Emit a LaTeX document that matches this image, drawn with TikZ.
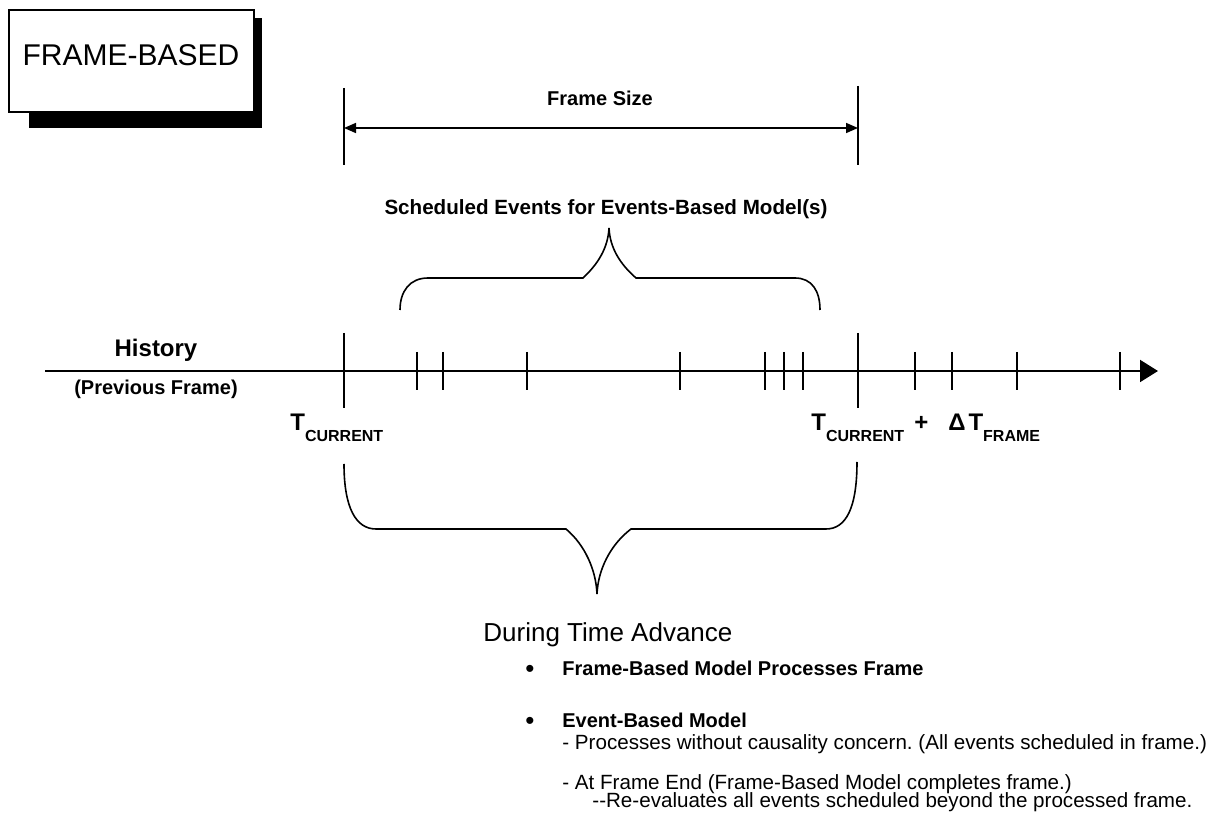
\documentclass[tikz,border=0pt]{standalone}
\usepackage{fontspec}
\setmainfont{Liberation Sans}
\usepackage{tikz}
\usetikzlibrary{arrows.meta}
\frenchspacing
\tikzset{
  lbl/.style={inner sep=0pt, anchor=base, font=\fontsize{10}{12}\selectfont\bfseries},
  txt/.style={inner sep=0pt, anchor=base west, font=\fontsize{10.3}{12}\selectfont},
  bigt/.style={inner sep=0pt, anchor=base west, font=\fontsize{12}{14}\selectfont\bfseries},
  dot/.style={inner sep=0pt, font=\fontsize{13}{13}\selectfont}
}
\newcommand{\tsub}[1]{\raisebox{-5.5pt}{\fontsize{8}{9}\selectfont\bfseries #1}}

\begin{document}
\begin{tikzpicture}[x=0.5pt,y=-0.5pt]
\useasboundingbox (0,0) rectangle (1228,823);
\fill (29,18) rectangle (262,128);
\node (framebox) [draw, thick, fill=white, minimum width=122.5pt, minimum height=51pt, inner sep=0pt] at (131.5,61) {};
\node (frametitle) [inner sep=0pt, anchor=base, font=\fontsize{15}{18}\selectfont] at (131,66) {FRAME-BASED};
\coordinate (fsleft) at (344,128);
\coordinate (fsright) at (858,128);
\draw [thick] (344,88) -- (344,165);
\draw [thick] (858,86) -- (858,165);
\draw [thick, {Triangle[length=6pt,width=5pt]}-{Triangle[length=6pt,width=5pt]}] (fsleft) -- (fsright);
\node (fslabel) [lbl] at (600,106) {Frame Size};
\node (schedlabel) [lbl, font=\fontsize{10.3}{12}\selectfont\bfseries] at (606,215) {Scheduled Events for Events-Based Model(s)};
\draw [thick] (400,310) .. controls (400,291) and (410,278) .. (428,278) -- (583,278) .. controls (598,264) and (608,248) .. (609,228) .. controls (610,248) and (620,264) .. (636,278) -- (795,278) .. controls (812,278) and (820,291) .. (820,310);
\coordinate (past) at (45,371);
\coordinate (future) at (1158,371);
\draw [line width=1pt, -{Triangle[length=9pt,width=11pt]}] (past) -- (future);
\draw [thick] (344,333) -- (344,408);
\draw [thick] (858,333) -- (858,408);
\draw [thick] (417,352) -- (417,390);
\draw [thick] (443,352) -- (443,390);
\draw [thick] (527,352) -- (527,390);
\draw [thick] (680,352) -- (680,390);
\draw [thick] (765,352) -- (765,390);
\draw [thick] (784,352) -- (784,390);
\draw [thick] (803,352) -- (803,390);
\draw [thick] (915,352) -- (915,390);
\draw [thick] (952,352) -- (952,390);
\draw [thick] (1017,352) -- (1017,390);
\draw [thick] (1120,352) -- (1120,390);
\node (history) [lbl, font=\fontsize{12}{14}\selectfont\bfseries] at (156,357) {History};
\node (prevframe) [lbl] at (156,395) {(Previous Frame)};
\node (tnow) [bigt] at (290,431) {T\tsub{CURRENT}};
\node (tnext) [bigt] at (811,431) {T\tsub{CURRENT}\hspace{5pt}+\hspace{10pt}Δ\hspace{1.5pt}T\tsub{FRAME}};
\draw [thick] (344,464) .. controls (344,508) and (356,529) .. (376,529) -- (566,529) .. controls (585,545) and (596,570) .. (597,594) .. controls (598,570) and (610,545) .. (631,529) -- (826,529) .. controls (846,529) and (857,508) .. (857,462);
\node (during) [inner sep=0pt, anchor=base west, font=\fontsize{13}{15}\selectfont] at (483,642) {During Time Advance};
\node (bulA) [dot] at (530,671) {•};
\node (itemA) [lbl, anchor=base west] at (562,676) {Frame-Based Model Processes Frame};
\node (bulB) [dot] at (530,723) {•};
\node (itemB) [lbl, anchor=base west] at (562,728) {Event-Based Model};
\node (subA) [txt] at (562,750) {- Processes without causality concern. (All events scheduled in frame.)};
\node (subB) [txt] at (562,790) {- At Frame End (Frame-Based Model completes frame.)};
\node (subC) [txt] at (592,808) {-{}-Re-evaluates all events scheduled beyond the processed frame.};
\end{tikzpicture}
\end{document}
